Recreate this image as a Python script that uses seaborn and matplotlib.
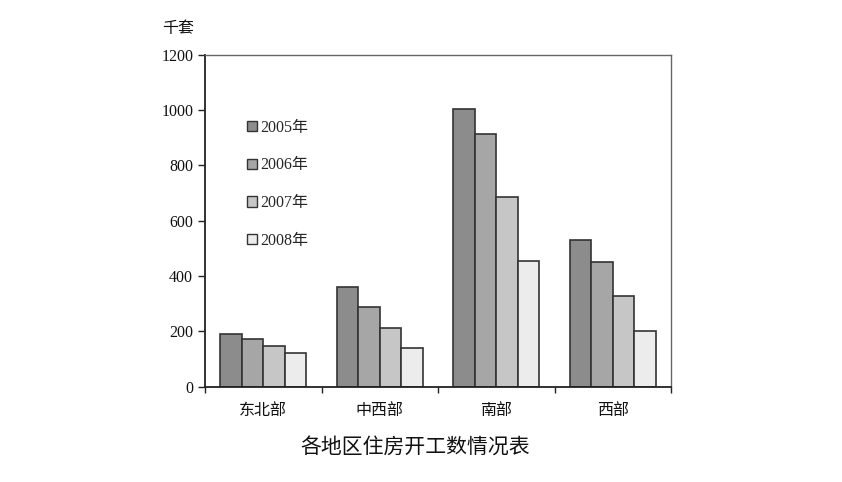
import numpy as np
import pandas as pd
import matplotlib
matplotlib.use('Agg')
import matplotlib.pyplot as plt
import seaborn as sns

# 数据 (千套)
regions = ['东北部', '中西部', '南部', '西部']
years = ['2005年', '2006年', '2007年', '2008年']
v2005 = [190, 360, 1005, 530]
v2006 = [172, 288, 913, 452]
v2007 = [145, 212, 685, 327]
v2008 = [122, 140, 456, 202]
colors = ['#8c8c8c', '#a6a6a6', '#c6c6c6', '#ececec']

df = pd.DataFrame({
    'region': regions * 4,
    'year': np.repeat(years, 4),
    'value': v2005 + v2006 + v2007 + v2008,
})

sns.set_style('white')
fonts = ['Liberation Serif', 'Noto Sans CJK SC']
plt.rcParams['font.family'] = fonts

fig = plt.figure(figsize=(8.42, 4.82), dpi=100)
ax = fig.add_axes([0.2435, 0.198, 0.5535, 0.688])

sns.barplot(data=df, x='region', y='value', hue='year', order=regions,
            hue_order=years, palette=colors, width=0.74, gap=0,
            edgecolor='#333333', linewidth=1.2, saturation=1, ax=ax)

ax.set_ylim(0, 1200)
ax.set_xlim(-0.5, 3.5)
ax.set_yticks(np.arange(0, 1201, 200))
ax.set_xlabel('')
ax.set_ylabel('')

for s in ['left', 'bottom']:
    ax.spines[s].set_color('#222222')
    ax.spines[s].set_linewidth(1.3)
for s in ['top', 'right']:
    ax.spines[s].set_color('#666666')
    ax.spines[s].set_linewidth(1.0)

ax.tick_params(axis='y', length=5, width=1, color='#222222', labelsize=11.5, direction='out', left=True)
ax.tick_params(axis='x', length=0, labelsize=11.5, pad=12)
ax.set_xticks(np.arange(-0.5, 3.6, 1), minor=True)
ax.tick_params(axis='x', which='minor', length=4, width=1, color='#222222', bottom=True)
for lab in ax.get_xticklabels() + ax.get_yticklabels():
    lab.set_family(fonts)
    lab.set_color('#111111')

fig.text(0.193, 0.94, '千套', fontsize=11.5, family=fonts, color='#111111', ha='left', va='center')

leg = ax.legend(loc='upper left', bbox_to_anchor=(0.06, 0.848), frameon=False,
                prop={'family': fonts, 'size': 11.5}, labelspacing=1.36,
                handlelength=0.6, handleheight=0.6, handletextpad=0.2)
for h in leg.legend_handles:
    h.set_edgecolor('#333333')
    h.set_linewidth(1.0)

fig.text(0.493, 0.073, '各地区住房开工数情况表', fontsize=15, family=['Noto Sans CJK SC'],
         color='#111111', ha='center', va='center')

fig.savefig('out.png', dpi=100)
